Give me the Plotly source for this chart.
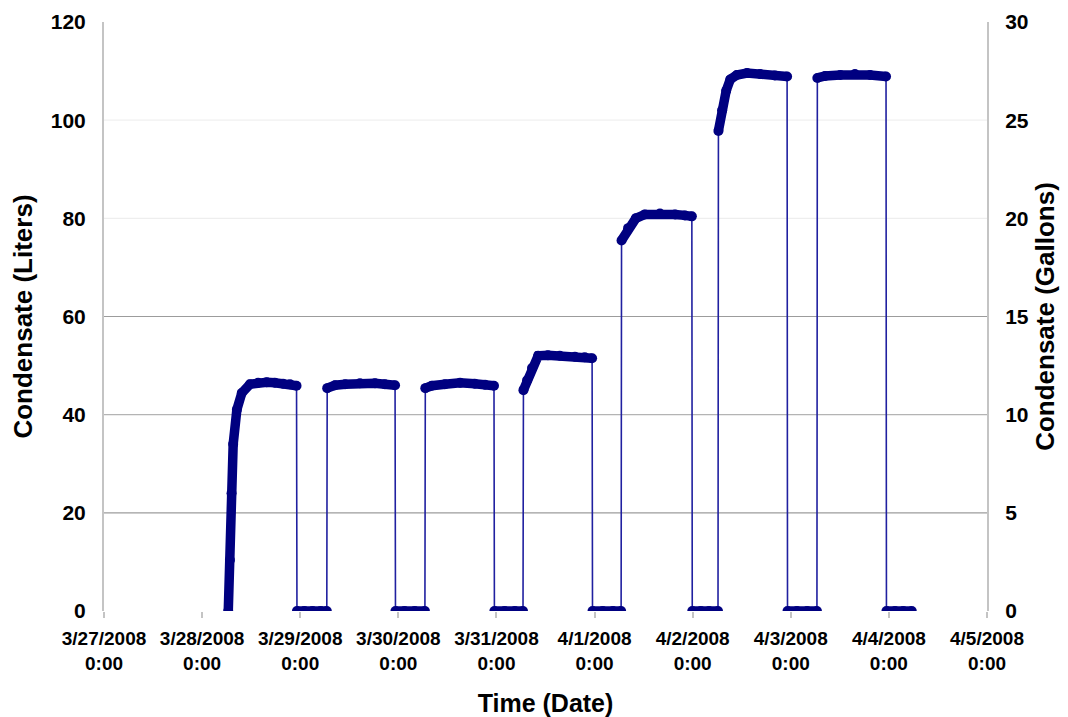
import pandas as pd
import plotly.graph_objects as go

START = pd.Timestamp("2008-03-27 00:00")
END = pd.Timestamp("2008-04-05 00:00")

# Readings: hours after 3/27/2008 0:00 and condensate (liters), one list per run
RUN_HOURS = [
    [30.4, 30.8, 31.2, 31.6, 32.5, 33.7, 35.7, 37.7, 39.8, 41.8, 43.8, 45.5, 47.1],
    [47.2, 49.0, 51.0, 53.0, 54.5],
    [54.6, 56.5, 59.0, 62.6, 66.3, 68.7, 71.2],
    [71.3, 73.5, 76.0, 78.5],
    [78.6, 80.2, 83.4, 87.1, 90.7, 93.2, 95.4],
    [95.5, 98.0, 100.5, 102.5],
    [102.6, 103.5, 104.7, 106.2, 108.6, 111.5, 115.2, 117.6, 119.4],
    [119.5, 122.0, 124.5, 126.5],
    [126.6, 128.2, 130.1, 132.3, 136.0, 139.7, 142.1, 143.8],
    [143.9, 146.0, 148.0, 150.2],
    [150.3, 151.2, 152.2, 153.2, 154.8, 157.3, 160.5, 164.1, 167.1],
    [167.2, 169.5, 172.0, 174.4],
    [174.5, 176.4, 180.1, 183.7, 187.4, 191.3],
    [191.4, 193.5, 195.5, 197.6],
]
RUN_LITERS = [
    [0.0, 10.4, 24.0, 34.0, 41.0, 44.4, 46.2, 46.5, 46.6, 46.5, 46.3, 46.2, 45.9],
    [0.0, 0.0, 0.0, 0.0, 0.0],
    [45.4, 46.0, 46.2, 46.4, 46.4, 46.2, 46.0],
    [0.0, 0.0, 0.0, 0.0],
    [45.4, 45.9, 46.2, 46.5, 46.3, 46.1, 45.9],
    [0.0, 0.0, 0.0, 0.0],
    [45.0, 47.0, 49.5, 52.0, 52.1, 52.0, 51.8, 51.7, 51.5],
    [0.0, 0.0, 0.0, 0.0],
    [75.5, 78.0, 80.0, 80.8, 81.0, 80.8, 80.6, 80.4],
    [0.0, 0.0, 0.0, 0.0],
    [97.8, 102.0, 106.0, 108.3, 109.2, 109.6, 109.4, 109.1, 108.9],
    [0.0, 0.0, 0.0, 0.0],
    [108.6, 109.0, 109.2, 109.4, 109.2, 108.9],
    [0.0, 0.0, 0.0, 0.0],
]

Y_TICKS_L = [0, 20, 40, 60, 80, 100, 120]
Y_TICKS_R = [0, 5, 10, 15, 20, 25, 30]
GRID_LEVELS = [20, 40, 60, 80, 100]
GRID_COLORS = ["#9c9c9c", "#b4b4b4", "#9c9c9c", "#eeeeee", "#f0f0f0"]

NAVY = "#000080"
AXIS_GRAY = "#c4c4c4"
FONT = "Liberation Sans"


def to_time(hours):
    return [START + pd.Timedelta(hours=h) for h in hours]


# thin connecting line through every reading
all_x, all_y = [], []
for hrs, lit in zip(RUN_HOURS, RUN_LITERS):
    all_x += to_time(hrs)
    all_y += lit

# thick marker band for each run (gaps between runs)
band_x, band_y = [], []
for hrs, lit in zip(RUN_HOURS, RUN_LITERS):
    band_x += to_time(hrs) + [None]
    band_y += lit + [None]

fig = go.Figure()
fig.add_trace(go.Scatter(
    x=all_x, y=all_y, mode="lines",
    line=dict(color="#2020a0", width=1.6),
    hoverinfo="skip", showlegend=False,
))
fig.add_trace(go.Scatter(
    x=band_x, y=band_y, mode="lines+markers", connectgaps=False,
    line=dict(color=NAVY, width=9.5),
    marker=dict(color=NAVY, size=10),
    showlegend=False, name="Condensate",
))
# gallons axis companion (invisible)
fig.add_trace(go.Scatter(
    x=[START], y=[0], yaxis="y2", mode="markers",
    marker=dict(opacity=0), hoverinfo="skip", showlegend=False,
))

for lvl, col in zip(GRID_LEVELS, GRID_COLORS):
    fig.add_shape(type="line", xref="paper", x0=0, x1=1, yref="y", y0=lvl, y1=lvl,
                  line=dict(color=col, width=1.2), layer="below")

tick_font = dict(family=FONT, size=21, color="black", weight="bold")
title_font_y = dict(family=FONT, size=26, color="black", weight="bold")

fig.update_layout(
    width=1060, height=709,
    margin=dict(l=96, r=81, t=14, b=106, autoexpand=False),
    paper_bgcolor="white", plot_bgcolor="white",
    xaxis=dict(
        type="date", range=[START, END], tick0=START, dtick=86400000,
        tickformat="%-m/%-d/%Y<br>%-H:%M",
        tickfont=dict(family=FONT, size=19, color="black", weight="bold"),
        ticks="outside", ticklen=6, tickcolor=AXIS_GRAY, tickwidth=1.5,
        showgrid=False, showline=False, zeroline=False, automargin=False,
        ticklabelstandoff=4,
        title=dict(text="Time (Date)", font=dict(family=FONT, size=25, color="black", weight="bold"),
                   standoff=22),
    ),
    yaxis=dict(
        range=[0, 120], tickvals=Y_TICKS_L, tickfont=tick_font, automargin=False,
        showgrid=False, zeroline=False, showline=True, linecolor=AXIS_GRAY, linewidth=2,
        ticks="", ticklabelstandoff=12,
        title=dict(text="Condensate (Liters)", font=title_font_y, standoff=12),
    ),
    yaxis2=dict(
        range=[0, 30], tickvals=Y_TICKS_R, tickfont=tick_font, overlaying="y", side="right",
        automargin=False,
        showgrid=False, zeroline=False, showline=True, linecolor=AXIS_GRAY, linewidth=2,
        ticks="", ticklabelstandoff=12,
        title=dict(text="Condensate (Gallons)", font=title_font_y, standoff=8),
    ),
)

fig.write_html("out.html")
